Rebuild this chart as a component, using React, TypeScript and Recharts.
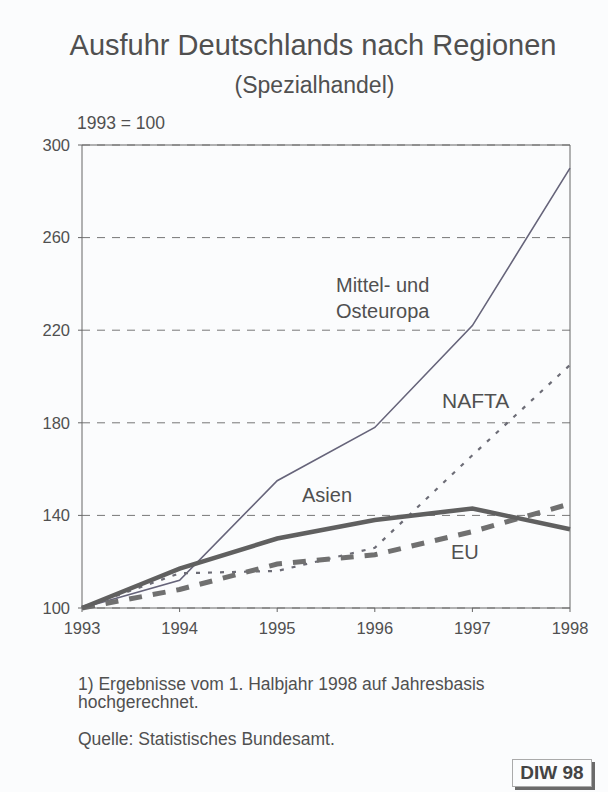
import React from 'react';
import { LineChart, Line, XAxis, YAxis, CartesianGrid, ReferenceLine } from 'recharts';

const years = [1993, 1994, 1995, 1996, 1997, 1998];
const mittelOsteuropa = [100, 112, 155, 178, 222, 290];
const nafta = [100, 115, 116, 126, 166, 205];
const asien = [100, 117, 130, 138, 143, 134];
const eu = [100, 108, 119, 123, 133, 145];
const yTicks = [100, 140, 180, 220, 260, 300];

const data = years.map((year, i) => ({
    year,
    moe: mittelOsteuropa[i],
    nafta: nafta[i],
    asien: asien[i],
    eu: eu[i],
}));

const font = '"Liberation Sans", Arial, sans-serif';
const textColor = '#505050';

const label = (left: number, top: number, size: number, extra: React.CSSProperties = {}): React.CSSProperties => ({
    position: 'absolute',
    left,
    top,
    fontSize: size,
    color: textColor,
    whiteSpace: 'nowrap',
    lineHeight: 1,
    ...extra,
});

const App: React.FC = () => {
    return (
        <div style={{ position: 'absolute', left: 0, top: 0, width: 608, height: 792, background: '#fbfcfd', fontFamily: font }}>
            <div style={label(0, 31, 29, { width: 626, textAlign: 'center' })}>Ausfuhr Deutschlands nach Regionen</div>
            <div style={label(0, 74, 23, { width: 629, textAlign: 'center' })}>(Spezialhandel)</div>
            <div style={label(77, 115, 17.5)}>1993 = 100</div>

            <div style={{ position: 'absolute', left: 0, top: 0 }}>
                <LineChart
                    width={608}
                    height={792}
                    data={data}
                    margin={{ top: 145, right: 38, bottom: 150, left: 22 }}
                >
                    <CartesianGrid vertical={false} stroke="#777" strokeDasharray="8 7" />
                    <XAxis
                        dataKey="year"
                        type="number"
                        domain={[1993, 1998]}
                        ticks={years}
                        height={34}
                        stroke="#666"
                        tickSize={4}
                        tick={{ fill: textColor, fontSize: 16.5, fontFamily: font }}
                        tickMargin={10}
                    />
                    <YAxis
                        domain={[100, 300]}
                        ticks={yTicks}
                        width={60}
                        stroke="#666"
                        tickSize={4}
                        tick={{ fill: textColor, fontSize: 16.5, fontFamily: font }}
                        tickMargin={8}
                    />
                    <ReferenceLine y={300} stroke="#666" />
                    <ReferenceLine x={1998} stroke="#666" />
                    <Line dataKey="moe" stroke="#66647a" strokeWidth={1.6} dot={false} isAnimationActive={false} />
                    <Line dataKey="nafta" stroke="#6c6c76" strokeWidth={2.2} strokeDasharray="4 8" dot={false} isAnimationActive={false} />
                    <Line dataKey="eu" stroke="#707070" strokeWidth={5} strokeDasharray="13 11" dot={false} isAnimationActive={false} />
                    <Line dataKey="asien" stroke="#606060" strokeWidth={4.5} dot={false} isAnimationActive={false} />
                </LineChart>
            </div>

            <div style={label(336, 275, 20)}>Mittel- und</div>
            <div style={label(336, 301, 20)}>Osteuropa</div>
            <div style={label(442, 390, 21)}>NAFTA</div>
            <div style={label(302, 485, 20)}>Asien</div>
            <div style={label(451, 542, 20)}>EU</div>

            <div style={label(78, 676, 17.5)}>1) Ergebnisse vom 1. Halbjahr 1998 auf Jahresbasis</div>
            <div style={label(78, 694, 17.5)}>hochgerechnet.</div>
            <div style={label(78, 731, 17.5)}>Quelle: Statistisches Bundesamt.</div>

            <div
                style={{
                    position: 'absolute',
                    left: 512,
                    top: 759,
                    width: 80,
                    height: 28,
                    border: '1px solid #aaa',
                    boxShadow: '3px 3px 0 #6a6a6a',
                    boxSizing: 'border-box',
                    background: '#fbfcfd',
                    color: '#444',
                    fontWeight: 'bold',
                    fontSize: 19,
                    lineHeight: '26px',
                    textAlign: 'center',
                }}
            >
                DIW 98
            </div>
        </div>
    );
};

export default App;
